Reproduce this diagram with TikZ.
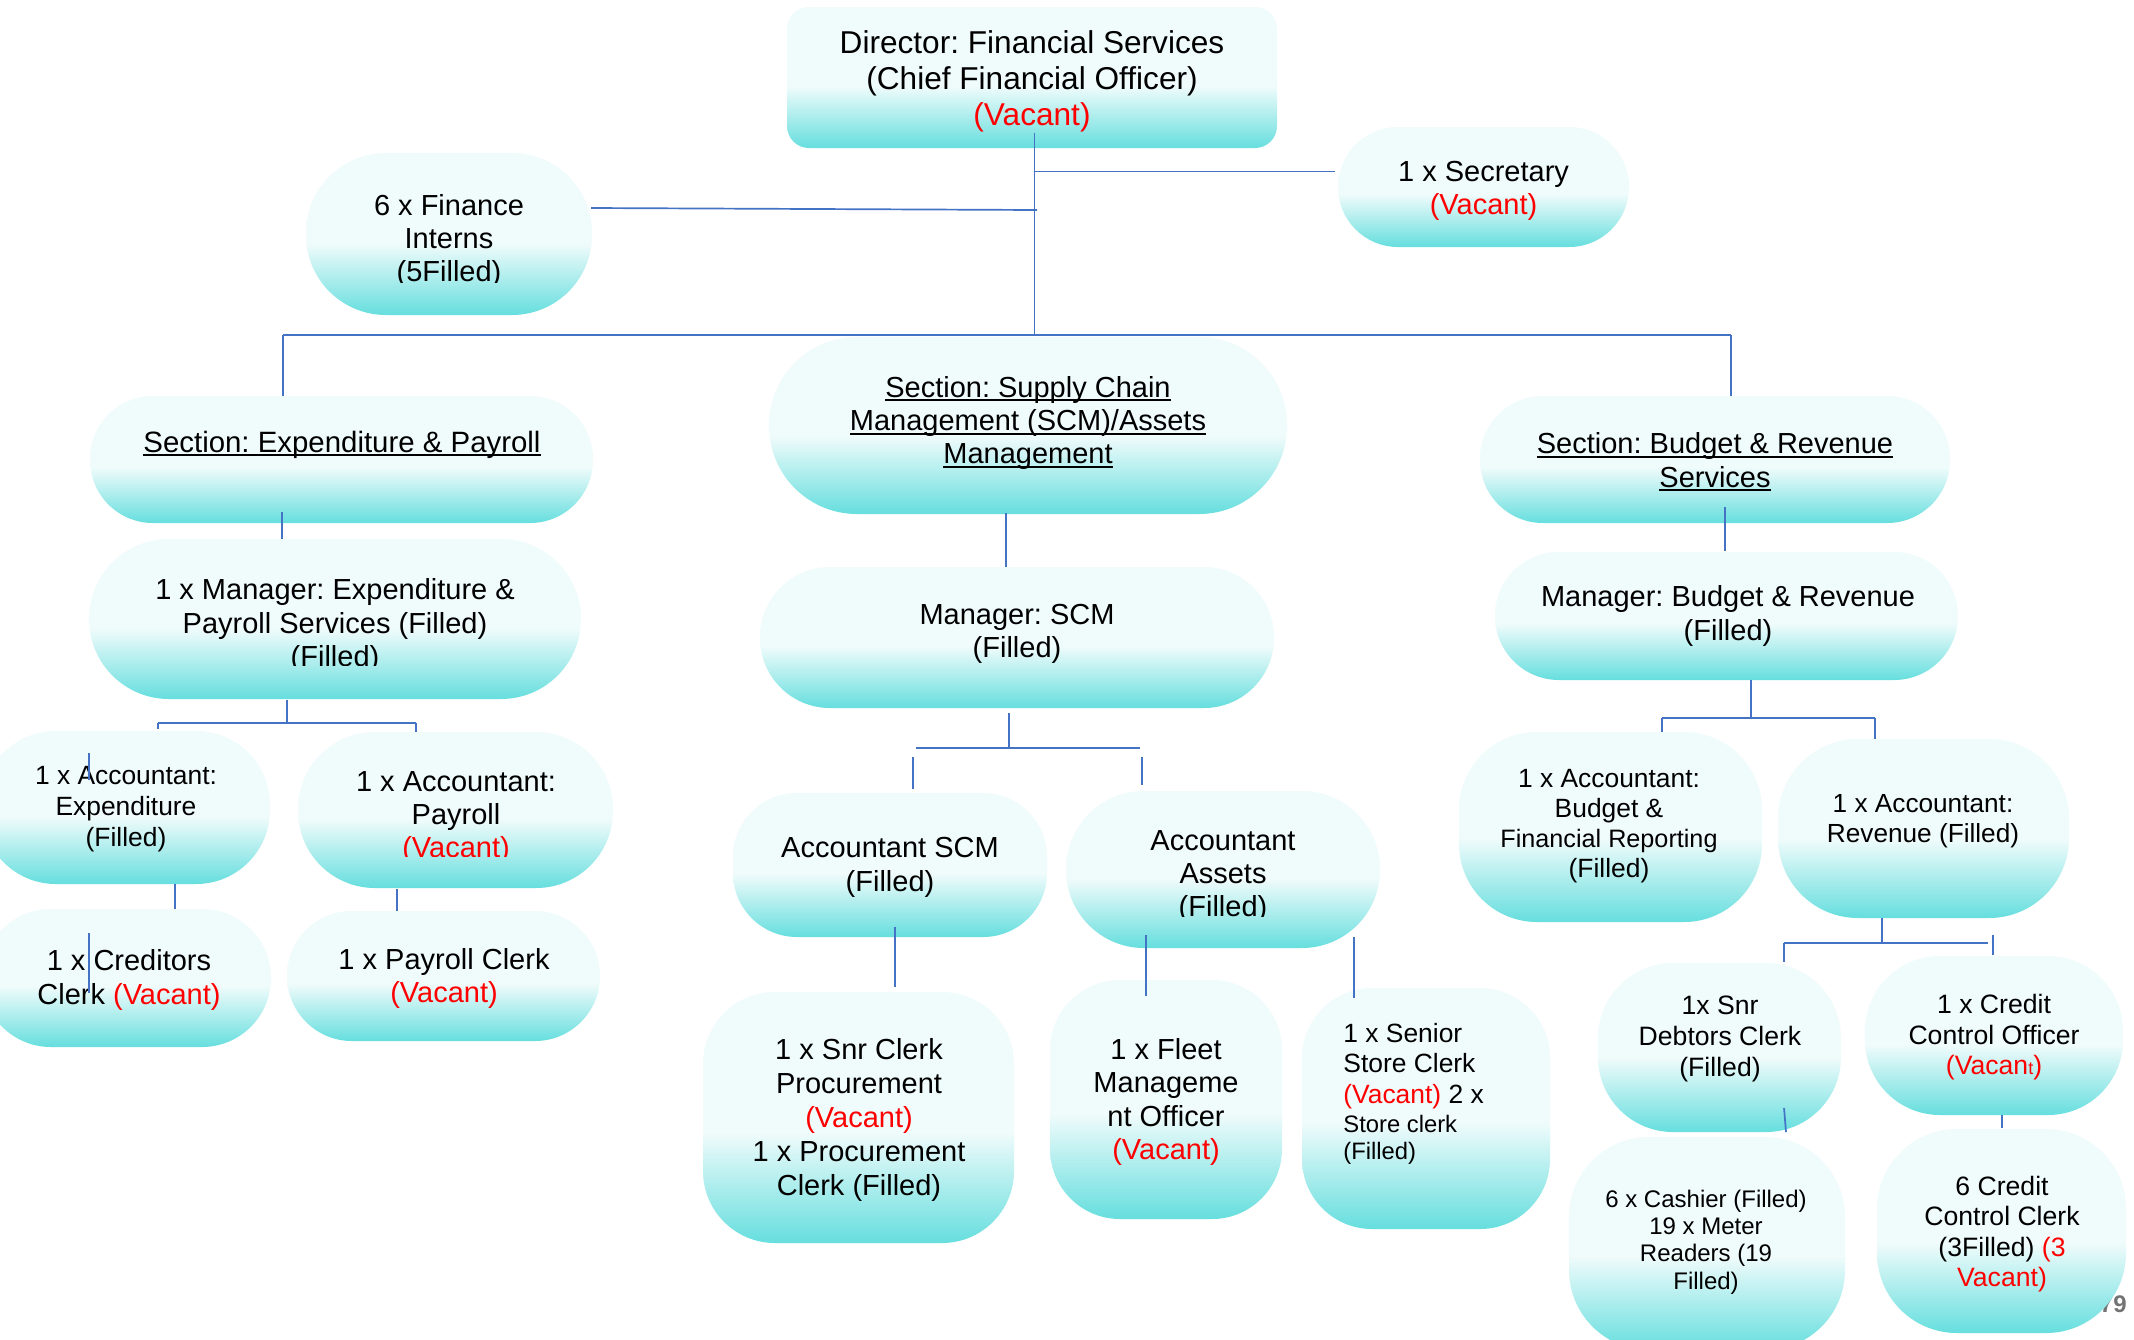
\documentclass[tikz,border=0pt]{standalone}
\usepackage{fontspec}
\setmainfont{Liberation Sans}
\usetikzlibrary{calc}
\frenchspacing
\definecolor{boxlight}{HTML}{F0FBFB}
\definecolor{boxdark}{HTML}{66DEDE}
\definecolor{wireblue}{HTML}{4472C4}
\definecolor{vacred}{HTML}{FF0000}
\pgfdeclareverticalshading{orgfill}{100bp}{color(0bp)=(boxdark); color(25bp)=(boxdark); color(47bp)=(boxlight); color(100bp)=(boxlight)}
\newcommand\vac[1]{\textcolor{vacred}{#1}}
\newcommand\uln[1]{\setbox0=\hbox{#1}\rlap{\rule[-0.15em]{\wd0}{0.07em}}\box0}
% box from (x1,y1) to (x2,y2) with corner radius r, all in picture units
\newcommand\orgbox[6]{%
  \pgfmathsetmacro\obw{(#4-#2)*0.5}%
  \pgfmathsetmacro\obh{(#5-#3)*0.5}%
  \pgfmathsetmacro\obr{#6*0.5}%
  \node[orgshape, minimum width=\obw pt, minimum height=\obh pt, rounded corners=\obr pt] (#1) at ({(#2+#4)/2},{(#3+#5)/2}) {};}
\tikzset{
  orgshape/.style={rectangle, inner sep=0pt, outer sep=0pt, shade, shading=orgfill, draw=none},
  txt/.style={align=center, inner sep=0pt, font=\fontsize{14.5}{16.7}\selectfont},
  smalltxt/.style={txt, font=\fontsize{13.2}{15.3}\selectfont},
  wire/.style={draw=wireblue, line width=0.85pt},
}
\begin{document}
\begin{tikzpicture}[x=0.5pt, y=-0.5pt]
\useasboundingbox (0,0) rectangle (2134,1339);
\fill[white] (0,0) rectangle (2134,1339);
\clip (0,0) rectangle (2134,1339);

% main bus behind the section boxes
\coordinate (busL) at (283,335);
\coordinate (busR) at (1731,335);
\coordinate (hub) at (1034.5,335);
\draw[wire] (busL) -- (busR);

% ---------- boxes ----------
\orgbox{dir}{787}{7}{1277}{148}{22}
\orgbox{intern}{306}{153}{592}{315}{80}
\orgbox{secr}{1338}{127}{1629}{247}{60}
\orgbox{secexp}{90}{396}{593}{523}{63}
\orgbox{secscm}{769}{337}{1287}{514}{88}
\orgbox{secbud}{1480}{396}{1950}{523}{63}
\draw[wire] (busR) -- (secbud.north -| busR);
\draw[wire] (busL) -- (secexp.north -| busL);
\orgbox{mgrexp}{89}{539}{581}{699}{80}
\orgbox{mgrscm}{760}{567}{1274}{708}{70}
\orgbox{mgrbud}{1495}{552}{1958}{680}{64}
\orgbox{accexp}{-18}{731}{270}{884}{74}
\orgbox{accpay}{298}{732}{613}{888}{77}
\orgbox{credclk}{-18}{909}{271}{1047}{69}
\orgbox{payclk}{287}{911}{600}{1041}{65}
\orgbox{accscm}{733}{793}{1047}{937}{64}
\orgbox{accast}{1066}{791}{1380}{948}{78}
\orgbox{snrproc}{703}{992}{1014}{1243}{72}
\orgbox{fleet}{1050}{980}{1282}{1219}{70}
\orgbox{store}{1302}{988}{1550}{1229}{70}
\orgbox{accbud}{1459}{732}{1762}{922}{78}
\orgbox{accrev}{1778}{739}{2069}{918}{80}
\orgbox{debtor}{1598}{963}{1841}{1132}{75}
\orgbox{ccoff}{1865}{956}{2123}{1115}{75}
\orgbox{cashier}{1569}{1137}{1845}{1350}{80}
\node[font=\fontsize{12}{12}\selectfont\bfseries, text=black!55, anchor=base east, inner sep=0pt] (pgnum) at (2127,1312) {79};
\orgbox{ccclk}{1877}{1129}{2126}{1333}{80}

% ---------- texts ----------
\node[txt, font=\fontsize{15.8}{18}\selectfont] (dir-t) at (1032,81)
  {Director: Financial Services\\(Chief Financial Officer)\\\vac{(Vacant)}};
\begin{scope}
  \clip (306,153) rectangle (592,282);
  \node[txt] (intern-t) at (449,241) {6 x Finance\\Interns\\(5Filled)};
\end{scope}
\node[txt] (secr-t) at (1483.5,191) {1 x Secretary\\\vac{(Vacant)}};

\node[txt, font=\fontsize{14.7}{16.7}\selectfont, anchor=base] (secexp-t) at (342,452)
  {\uln{Section: Expenditure \& Payroll}};
\node[txt] (secscm-t) at (1028,423)
  {\uln{Section: Supply Chain}\\\uln{Management (SCM)/Assets}\\\uln{Management}};
\node[txt] (secbud-t) at (1715,462) {\uln{Section: Budget \& Revenue}\\\uln{Services}};

\begin{scope}
  \clip (89,539) rectangle (581,665);
  \node[txt] (mgrexp-t) at (335,625.5)
    {1 x Manager: Expenditure \&\\Payroll Services (Filled)\\(Filled)};
\end{scope}
\node[txt] (mgrscm-t) at (1017,634) {Manager: SCM\\(Filled)};
\node[txt] (mgrbud-t) at (1728,616) {Manager: Budget \& Revenue\\(Filled)};

\node[smalltxt, font=\fontsize{13.2}{15.5}\selectfont] (accexp-t) at (126,809)
  {1 x Accountant:\\Expenditure\\(Filled)};
\begin{scope}
  \clip (298,732) rectangle (613,856);
  \node[txt] (accpay-t) at (456,817.5) {1 x Accountant:\\Payroll\\\vac{(Vacant)}};
\end{scope}
\node[txt] (credclk-t) at (129,980) {1 x Creditors\\Clerk \vac{(Vacant)}};
\node[txt] (payclk-t) at (444,978.5) {1 x Payroll Clerk\\\vac{(Vacant)}};

\node[txt] (accscm-t) at (890,867.5) {Accountant SCM\\(Filled)};
\begin{scope}
  \clip (1066,791) rectangle (1380,916);
  \node[txt] (accast-t) at (1223,876.5) {Accountant\\Assets\\(Filled)};
\end{scope}
\node[txt, font=\fontsize{14.5}{16.9}\selectfont] (snrproc-t) at (859,1120)
  {1 x Snr Clerk\\Procurement\\\vac{(Vacant)}\\1 x Procurement\\Clerk (Filled)};
\node[txt, font=\fontsize{14.5}{16.8}\selectfont] (fleet-t) at (1166,1102)
  {1 x Fleet\\Manageme\\nt Officer\\\vac{(Vacant)}};
\node[txt, align=left, anchor=west, font=\fontsize{13.2}{15.25}\selectfont] (store-t) at (1343,1093.4)
  {1 x Senior\\Store Clerk\\\vac{(Vacant)} 2 x\\[-0.75pt]{\fontsize{11.9}{13.5}\selectfont Store clerk}\\[-1.75pt]{\fontsize{11.9}{13.5}\selectfont (Filled)}};

\node[txt, font=\fontsize{13.2}{15}\selectfont] (accbud-t) at (1609,826)
  {1 x Accountant:\\Budget \&\\{\fontsize{12.6}{15}\selectfont Financial Reporting}\\(Filled)};
\node[txt, font=\fontsize{13.1}{15}\selectfont] (accrev-t) at (1923,821)
  {1 x Accountant:\\Revenue (Filled)};
\node[txt, font=\fontsize{13.3}{15.5}\selectfont] (debtor-t) at (1720,1039)
  {1x Snr\\Debtors Clerk\\(Filled)};
\node[txt, font=\fontsize{13.3}{15.25}\selectfont] (ccoff-t) at (1994,1037.5)
  {1 x Credit\\Control Officer\\\vac{(Vacan{\fontsize{9}{9}\selectfont t})}};
\node[txt, font=\fontsize{12}{13.7}\selectfont] (cashier-t) at (1706,1242)
  {6 x Cashier (Filled)\\19 x Meter\\Readers (19\\Filled)};
\node[txt, font=\fontsize{13.3}{15.3}\selectfont] (ccclk-t) at (2002,1234)
  {6 Credit\\Control Clerk\\(3Filled) \vac{(3}\\\vac{Vacant)}};

% ---------- connectors ----------
% director level
\draw[wire] ($(dir.south)+(2.5,-15)$) -- (hub);
\draw[wire] ($(dir.south)+(2.5,23.5)$) -- ($(secr.west)+(-3,-15.5)$);
\draw[wire] ($(intern.east)+(-1,-26)$) -- ($(dir.south)+(5,62)$);

% sections to managers
\draw[wire] ($(secexp.south)+(-59.5,-11)$) -- ($(mgrexp.north)+(-53,0)$);
\draw[wire] ($(secscm.south)+(-22,-1)$) -- ($(mgrscm.north)+(-11,0)$);
\draw[wire] ($(secbud.south)+(10,-16)$) -- ($(mgrbud.north)+(-1.5,-1)$);

% expenditure & payroll branch
\coordinate (jl) at (287,723);
\coordinate (jlL) at (158,723);
\coordinate (jlR) at (416,723);
\draw[wire] ($(mgrexp.south)+(-48,1)$) -- (jl);
\draw[wire] (jlL) -- (jlR);
\draw[wire] (jlL) -- ($(accexp.north)+(32,-2)$);
\draw[wire] (jlR) -- ($(accpay.north)+(-39.5,0)$);
\draw[wire] ($(accexp.south)+(49,0)$) -- ($(credclk.north)+(48.5,0)$);
\draw[wire] ($(accpay.south)+(-58.5,1)$) -- ($(payclk.north)+(-46.5,0)$);
\draw[wire] ($(accexp.north)+(-37,22)$) -- ($(accexp.north)+(-37,49)$);
\draw[wire] ($(credclk.north)+(-37.5,24)$) -- ($(credclk.north)+(-37.5,84)$);

% supply chain branch
\coordinate (jm) at (1009,748);
\coordinate (jmL) at (916,748);
\coordinate (jmR) at (1140,748);
\draw[wire] ($(mgrscm.south)+(-8,5)$) -- (jm);
\draw[wire] (jmL) -- (jmR);
\draw[wire] ($(accscm.north)+(23,-36)$) -- ($(accscm.north)+(23,-4)$);
\draw[wire] ($(accast.north)+(-81,-34)$) -- ($(accast.north)+(-81,-6)$);
\draw[wire] ($(accscm.south)+(5,-10)$) -- ($(snrproc.north)+(36.5,-5)$);
\draw[wire] ($(accast.south)+(-77,-13)$) -- ($(fleet.north)+(-20,16)$);
\draw[wire] ($(accast.south)+(131,-11)$) -- ($(store.north)+(-72,10)$);

% budget & revenue branch
\coordinate (jr) at (1751,718);
\coordinate (jrL) at (1662,718);
\coordinate (jrR) at (1875,718);
\draw[wire] ($(mgrbud.south)+(24.5,0)$) -- (jr);
\draw[wire] (jrL) -- (jrR);
\draw[wire] (jrL) -- ($(accbud.north)+(51.5,0)$);
\draw[wire] (jrR) -- ($(accrev.north)+(-48.5,0)$);
\coordinate (jrr) at (1882,943);
\coordinate (jrrL) at (1784,943);
\coordinate (jrrR) at (1988,943);
\draw[wire] ($(accrev.south)+(-41.5,0)$) -- (jrr);
\draw[wire] (jrrL) -- (jrrR);
\draw[wire] (jrrL) -- ($(debtor.north)+(64.5,-1)$);
\draw[wire] ($(ccoff.north)+(-1,-21)$) -- ($(ccoff.north)+(-1,-1)$);
\draw[wire] ($(debtor.south)+(64.5,-24)$) -- ($(cashier.north)+(79,-5)$);
\draw[wire] ($(ccoff.south)+(8,0)$) -- ($(ccclk.north)+(0.5,-1)$);
\end{tikzpicture}
\end{document}
